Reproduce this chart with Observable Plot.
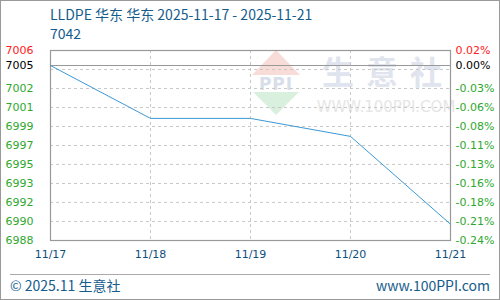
<!DOCTYPE html>
<html>
<head>
<meta charset="utf-8">
<script src="https://cdn.jsdelivr.net/npm/d3@7"></script>
<script src="https://cdn.jsdelivr.net/npm/@observablehq/plot@0.6"></script>
<style>
  html, body { margin: 0; padding: 0; background: #fff; }
  #wrap { position: relative; width: 500px; height: 300px; overflow: hidden; font-family: "Noto Sans CJK SC", "DejaVu Sans", sans-serif; }
  #border { position: absolute; left: 0; top: 0; width: 498px; height: 298px; border: 1px solid #999; }
  .t { position: absolute; color: #155c8c; white-space: nowrap; }
  #wm { position: absolute; left: 0; top: 0; }
  #chart { position: absolute; left: 0; top: 0; }
  #footline { position: absolute; left: 10px; top: 274px; width: 480px; height: 0; border-top: 1px solid #aaa; }
</style>
</head>
<body>
<div id="wrap">
  <svg id="wm" width="500" height="300">
    <polygon points="276,50 300,75 252,75" fill="#f8dcd8"/>
    <text x="276" y="90" text-anchor="middle" font-family="DejaVu Sans" font-weight="bold" font-size="17" fill="#d8dfea" letter-spacing="1">PPI</text>
    <polygon points="253,92 299,92 276,115" fill="#d9f0df"/>
    <text x="388" y="84" text-anchor="middle" font-family="Noto Sans CJK SC" font-weight="bold" font-size="32" fill="#dfe4ee" letter-spacing="12">生意社</text>
    <text x="386" y="112" text-anchor="middle" font-family="DejaVu Sans" font-size="15" fill="#e6e6e6">WWW.100PPI.COM</text>
  </svg>
  <div id="chart"></div>
  <div class="t" style="left:50px; top:5px; font-size:14px; line-height:18px;">LLDPE 华东 华东 2025-11-17 - 2025-11-21</div>
  <div class="t" style="left:50px; top:24px; font-size:14px; line-height:18px;">7042</div>
  <div id="footline"></div>
  <div class="t" style="left:10px; top:276px; font-size:14px; line-height:18px;">© 2025.11 生意社</div>
  <div class="t" style="right:10px; top:276px; font-size:14px; line-height:18px;">www.100PPI.com</div>
  <div id="border"></div>
</div>
<script>
// ---- data ----
const dates = ["11/17", "11/18", "11/19", "11/20", "11/21"];
const prices = [7005, 7000, 7000, 6998.3, 6990];
const baseValue = 7005;
const yDomain = [6988.46, 7006.42];
const gridValues = [7006.42, 7004.62, 7002.83, 7001.03, 6999.24, 6997.44, 6995.65, 6993.85, 6992.06, 6990.26, 6988.46];
const labelValues = [7006.42, 7005, 7002.83, 7001.03, 6999.24, 6997.44, 6995.65, 6993.85, 6992.06, 6990.26, 6988.46];
const leftLabels = ["7006", "7005", "7002", "7001", "6999", "6997", "6995", "6993", "6992", "6990", "6988"];
const rightLabels = ["0.02%", "0.00%", "-0.03%", "-0.06%", "-0.08%", "-0.11%", "-0.13%", "-0.16%", "-0.18%", "-0.21%", "-0.24%"];
const innerDates = ["11/18", "11/19", "11/20"];

const series = dates.map((d, i) => ({date: d, price: prices[i]}));
const labels = labelValues.map((v, i) => ({v, left: leftLabels[i], right: rightLabels[i]}));
const colorOf = d => d.v > baseValue ? "#ff2020" : (d.v === baseValue ? "#000000" : "#2ea82e");

const chart = Plot.plot({
  width: 500,
  height: 300,
  marginLeft: 50,
  marginRight: 50,
  marginTop: 50,
  marginBottom: 60,
  style: {background: "transparent", fontFamily: "DejaVu Sans, sans-serif"},
  x: {type: "point", domain: dates, padding: 0, axis: null},
  y: {domain: yDomain, axis: null},
  marks: [
    Plot.ruleY(gridValues, {stroke: "#c8c8c8", strokeDasharray: "3,3", strokeWidth: 1}),
    Plot.ruleX(innerDates, {stroke: "#c8c8c8", strokeDasharray: "3,3", strokeWidth: 1}),
    Plot.ruleY([baseValue], {stroke: "#999", strokeWidth: 1.2}),
    Plot.frame({stroke: "#999", strokeWidth: 1.2}),
    Plot.line(series, {x: "date", y: "price", stroke: "#3d98d6", strokeWidth: 1}),
    Plot.text(labels, {y: "v", text: "left", frameAnchor: "left", dx: -45, textAnchor: "start", fill: colorOf, fontSize: 11}),
    Plot.text(labels, {y: "v", text: "right", frameAnchor: "right", dx: 5, textAnchor: "start", fill: colorOf, fontSize: 11}),
    Plot.text(dates, {x: d => d, text: d => d, frameAnchor: "bottom", dy: 17, fill: "#0e4f7e", fontSize: 11})
  ]
});
document.getElementById("chart").appendChild(chart);
</script>
</body>
</html>
